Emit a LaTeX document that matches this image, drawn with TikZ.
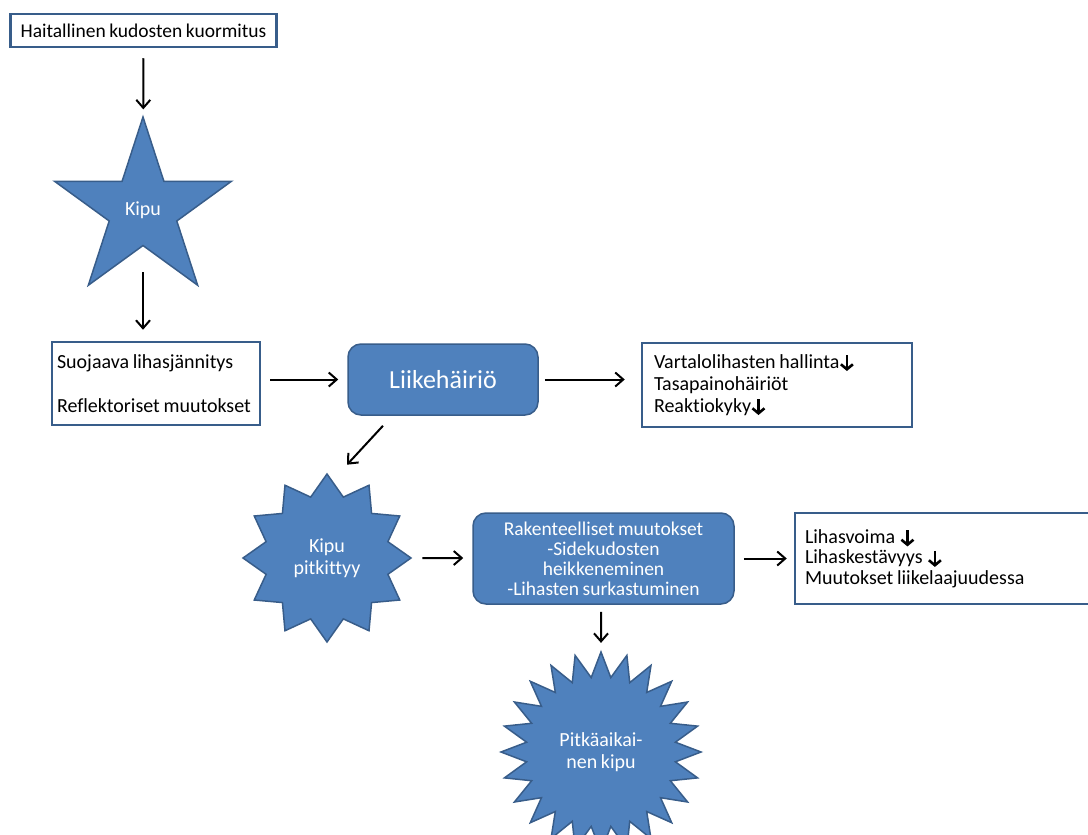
\documentclass[tikz,border=0pt]{standalone}
\usepackage{fontspec}
\setmainfont{Carlito}[Ligatures=NoCommon, WordSpace=0.8]
\usetikzlibrary{calc, shapes.geometric, arrows.meta}
\definecolor{shapeblue}{RGB}{79,129,189}
\definecolor{edgeblue}{RGB}{56,93,138}
\newcommand{\dnarrow}{\tikz[baseline=0pt]\draw[black, line width=2.6pt, -{Straight Barb[length=5pt,width=12pt]}] (0pt,13pt) -- (0pt,-3pt);}

\begin{document}
\begin{tikzpicture}[x=1pt, y=-1pt,
                every node/.style={font=\fontsize{20}{22}\selectfont},
                whitebox/.style={draw=edgeblue, line width=2.5pt, fill=white, align=flush left},
                bluebox/.style={draw=edgeblue, line width=1.5pt, fill=shapeblue, rounded corners=13pt, text=white, align=center},
                bluestar/.style={star, draw=edgeblue, line width=1.5pt, fill=shapeblue, text=white, align=center, inner sep=0pt},
                arr/.style={-{Straight Barb[length=8pt,width=14pt]}, line width=2pt}]
                \clip (0,0) rectangle (1088,835);
                \fill[white] (0,0) rectangle (1088,835);
                \node[whitebox, minimum width=266, minimum height=33, inner sep=0pt, font=\fontsize{19.5}{22}\selectfont] (hk) at (143.5,30.5) {Haitallinen kudosten kuormitus};
                \node[bluestar, star points=5, star point ratio=2.618, minimum size=186] (kipu) at (143,210) {Kipu};
                \node[whitebox, minimum height=83, text width=198, inner xsep=5pt] (sbox) at (156,383.5) {Suojaava lihasjännitys\\[22pt]Reflektoriset muutokset};
                \node[bluebox, minimum width=190, minimum height=71, font=\fontsize{26}{30}\selectfont] (liike) at (443,379.5) {Liikehäiriö};
                \node[whitebox, minimum height=84, text width=246, inner xsep=12pt] (vbox) at (777,385) {Vartalolihasten hallinta\dnarrow\\Tasapainohäiriöt\\Reaktiokyky\dnarrow};
                \node[bluestar, star points=12, star point ratio=1.333, minimum size=168] (kp) at (327,558) {Kipu\\pitkittyy};
                \node[bluebox, minimum width=261, minimum height=91, font=\fontsize{19.5}{20}\selectfont] (rak) at (603.5,558.5) {Rakenteelliset muutokset\\-Sidekudosten\\heikkeneminen\\-Lihasten surkastuminen};
                \node[whitebox, minimum height=91, text width=283, inner xsep=10pt, font=\fontsize{20}{20.5}\selectfont] (lbox) at (946.5,558.5) {Lihasvoima\hspace{5pt}\dnarrow\\Lihaskestävyys\hspace{5pt}\dnarrow\\Muutokset liikelaajuudessa};
                \node[bluestar, star points=24, star point ratio=1.333, minimum size=200] (pk) at (601,752) {Pitkäaikai-\\nen kipu};
                \draw[arr, shorten <=10pt, shorten >=6pt] (hk) -- (kipu);
                \draw[arr, shorten >=11pt] ($(kipu.center)+(0,62)$) -- (kipu |- sbox.north);
                \draw[arr, shorten <=9pt, shorten >=9pt] (sbox.east |- liike) -- (liike);
                \draw[arr, shorten <=6pt, shorten >=16pt] (liike) -- (liike -| vbox.west);
                \draw[arr] ($(liike.south)+(-60,10)$) -- ($(kp.north)+(20,-8)$);
                \draw[arr, shorten <=10pt, shorten >=9pt] (kp) -- (kp -| rak.west);
                \draw[arr, shorten <=9pt, shorten >=7pt] (rak) -- (rak -| lbox.west);
                \draw[arr, shorten <=7pt, shorten >=7pt] (rak.south -| pk) -- (pk);
            \end{tikzpicture}
\end{document}
